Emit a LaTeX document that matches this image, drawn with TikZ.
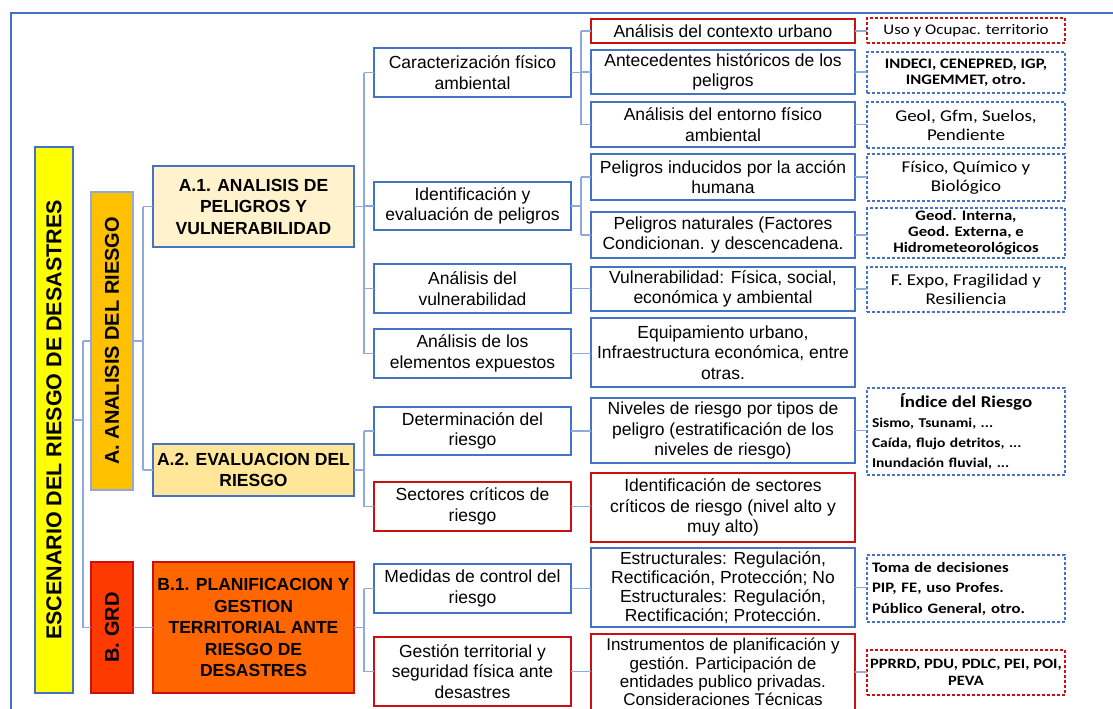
\documentclass[tikz,border=0pt]{standalone}
\usepackage{fontspec}
\setmainfont{Liberation Sans}
\newfontfamily\calib[FakeStretch=1.15]{Carlito}
\definecolor{bl}{HTML}{4472C4}
\definecolor{lb}{HTML}{8FAADC}
\definecolor{rd}{HTML}{CC1010}
\definecolor{yel}{HTML}{FFFF00}
\definecolor{ora}{HTML}{FFC000}
\definecolor{grd}{HTML}{FF3A00}
\definecolor{bone}{HTML}{FF6600}
\definecolor{aone}{HTML}{FFF2CC}
\definecolor{atwo}{HTML}{FFE699}
\newcommand\bx[7]{\node[#6, minimum width={(#4)-(#2)}, minimum height={(#5)-(#3)}] (#1) at ({((#2)+(#4))/2},{((#3)+(#5))/2}) {#7};}
\tikzset{
  x=1pt, y=-1pt,
  box/.style={draw=bl, line width=1.8, fill=white, inner sep=0, outer sep=0, align=center, font=\fontsize{17.5}{20.5}\selectfont},
  rbox/.style={box, draw=rd},
  tbox/.style={box, font=\fontsize{17.5}{19}\selectfont},
  hbox/.style={box, font=\bfseries\fontsize{17.5}{21.5}\selectfont},
  vbox/.style={draw=bl, line width=1.8, inner sep=0, outer sep=0, rotate=90, font=\bfseries\fontsize{20}{22}\selectfont},
  dbox/.style={draw=bl, line width=1.5, dash pattern=on 3pt off 2pt, fill=white, inner sep=0, outer sep=0, align=center, font=\calib\fontsize{16.5}{19}\selectfont},
  rdbox/.style={dbox, draw=rd},
  conn/.style={draw=lb, line width=1.5},
}
\begin{document}
\begin{tikzpicture}
\clip (0,0) rectangle (1113,709);
\fill[white] (0,0) rectangle (1113,709);
\draw[bl, line width=2] (1120,13) -- (11,13) -- (11,720);
% column 1 and 2
\node[vbox, fill=yel, minimum width=546, minimum height=38, font=\bfseries\fontsize{21.5}{24}\selectfont] (Y) at (54,420) {ESCENARIO DEL RIESGO DE DESASTRES};
\node[vbox, fill=ora, draw=lb, minimum width=298, minimum height=42] (A) at (112,341) {A. ANALISIS DEL RIESGO};
\node[vbox, fill=grd, draw=rd, minimum width=131, minimum height=42] (B) at (112,627.5) {B. GRD};
% column 3
\bx{A1}{153}{166}{354}{247}{hbox, fill=aone}{A.1. ANALISIS DE\\PELIGROS Y\\VULNERABILIDAD}
\bx{A2}{153}{444}{354}{496}{hbox, fill=atwo}{A.2. EVALUACION DEL\\RIESGO}
\bx{B1}{153}{562}{354}{693}{hbox, fill=bone, draw=rd}{B.1. PLANIFICACION Y\\GESTION\\TERRITORIAL ANTE\\RIESGO DE\\DESASTRES}
% column 4
\bx{ca}{374}{48}{571}{97}{box}{Caracterización físico\\ambiental}
\bx{cb}{374}{182}{571}{230}{box}{Identificación y\\evaluación de peligros}
\bx{cc}{374}{264}{571}{313}{box}{Análisis del\\vulnerabilidad}
\bx{cd}{374}{329}{571}{378}{box}{Análisis de los\\elementos expuestos}
\bx{ce}{374}{407}{571}{455}{box}{Determinación del\\riesgo}
\bx{cf}{374}{482}{571}{531}{rbox}{Sectores críticos de\\riesgo}
\bx{cg}{374}{564}{571}{613}{box}{Medidas de control del\\riesgo}
\bx{ch}{374}{637}{571}{706}{rbox}{Gestión territorial y\\seguridad física ante\\desastres}
% column 5
\bx{ea}{591}{19}{855}{43}{rbox}{Análisis del contexto urbano}
\bx{eb}{591}{50}{855}{94}{box}{Antecedentes históricos de los\\peligros}
\bx{ec}{591}{102}{855}{147}{box}{Análisis del entorno físico\\ambiental}
\bx{ed}{591}{154}{855}{200}{box}{Peligros inducidos por la acción\\humana}
\bx{ee}{591}{212}{855}{258}{box}{Peligros naturales (Factores\\Condicionan. y descencadena.}
\bx{ef}{591}{267}{855}{311}{box}{Vulnerabilidad: Física, social,\\económica y ambiental}
\bx{eg}{591}{318}{855}{387}{box}{Equipamiento urbano,\\Infraestructura económica, entre\\otras.}
\bx{eh}{591}{398}{855}{463}{box}{Niveles de riesgo por tipos de\\peligro (estratificación de los\\niveles de riesgo)}
\bx{ei}{591}{473}{855}{542}{rbox}{Identificación de sectores\\críticos de riesgo (nivel alto y\\muy alto)}
\bx{ej}{591}{548}{855}{627}{tbox}{Estructurales: Regulación,\\Rectificación, Protección; No\\Estructurales: Regulación,\\Rectificación; Protección.}
\bx{ek}{591}{634}{855}{710}{tbox, draw=rd, font=\fontsize{17}{18.3}\selectfont}{Instrumentos de planificación y\\gestión. Participación de\\entidades publico privadas.\\Consideraciones Técnicas}
% column 6
\bx{da}{867}{18}{1065}{43}{rdbox, font=\calib\fontsize{14.7}{17}\selectfont}{Uso y Ocupac. territorio}
\bx{db}{867}{52}{1065}{93}{dbox, font=\calib\bfseries\fontsize{14.5}{16}\selectfont}{INDECI, CENEPRED, IGP,\\INGEMMET, otro.}
\bx{dc}{867}{102}{1065}{148}{dbox}{Geol, Gfm, Suelos,\\Pendiente}
\bx{dd}{867}{154}{1065}{201}{dbox}{Físico, Químico y\\Biológico}
\bx{de}{867}{208}{1065}{258}{dbox, font=\calib\bfseries\fontsize{14.5}{16}\selectfont}{Geod. Interna,\\Geod. Externa, e\\Hidrometeorológicos}
\bx{df}{867}{267}{1065}{312}{dbox}{F. Expo, Fragilidad y\\Resiliencia}
\bx{dg}{867}{388}{1065}{475}{dbox, align=left, text width=188, font=\calib\bfseries\fontsize{13.5}{20}\selectfont}{{\centering\fontsize{16.5}{20}\selectfont Índice del Riesgo\par}Sismo, Tsunami, ...\\Caída, flujo detritos, ...\\Inundación fluvial, ...}
\bx{dh}{867}{555}{1065}{622}{dbox, align=left, text width=188, font=\calib\bfseries\fontsize{14.5}{20.5}\selectfont}{Toma de decisiones\\PIP, FE, uso Profes.\\Público General, otro.}
\bx{di}{867}{650}{1065}{695}{rdbox, font=\calib\bfseries\fontsize{14.3}{17}\selectfont}{PPRRD, PDU, PDLC, PEI, POI,\\PEVA}
% bus columns
\coordinate (k1) at (83,0);
\coordinate (k2) at (143,0);
\coordinate (k3) at (364,0);
\coordinate (k4) at (581,0);
% connectors level 1
\draw[conn] (Y.south) -- (Y.south -| k1);
\draw[conn] (k1 |- A.north) -- (k1 |- B.north);
\draw[conn] (k1 |- A.north) -- (A.north);
\draw[conn] (k1 |- B.north) -- (B.north);
% level 2
\draw[conn] (A.south) -- (A.south -| k2);
\draw[conn] (k2 |- A1.west) -- (k2 |- A2.west);
\draw[conn] (k2 |- A1.west) -- (A1.west);
\draw[conn] (k2 |- A2.west) -- (A2.west);
\draw[conn] (B.south) -- (B1.west);
% level 3
\draw[conn] (A1.east) -- (A1.east -| k3);
\draw[conn] (k3 |- ca.west) -- (k3 |- cd.west);
\foreach \n in {ca,cb,cc,cd} \draw[conn] (k3 |- \n.west) -- (\n.west);
\draw[conn] (A2.east) -- (A2.east -| k3);
\draw[conn] (k3 |- ce.west) -- (k3 |- cf.west);
\foreach \n in {ce,cf} \draw[conn] (k3 |- \n.west) -- (\n.west);
\draw[conn] (B1.east) -- (B1.east -| k3);
\draw[conn] (k3 |- cg.west) -- (k3 |- ch.west);
\foreach \n in {cg,ch} \draw[conn] (k3 |- \n.west) -- (\n.west);
% level 4
\draw[conn] (ca.east) -- (ca.east -| k4);
\draw[conn] (k4 |- ea.west) -- (k4 |- ec.west);
\foreach \n in {ea,eb,ec} \draw[conn] (k4 |- \n.west) -- (\n.west);
\draw[conn] (cb.east) -- (cb.east -| k4);
\draw[conn] (k4 |- ed.west) -- (k4 |- ee.west);
\foreach \n in {ed,ee} \draw[conn] (k4 |- \n.west) -- (\n.west);
\draw[conn] (cc.east) -- (cc.east -| ef.west);
\draw[conn] (cd.east) -- (cd.east -| eg.west);
\draw[conn] (ce.east) -- (ce.east -| eh.west);
\draw[conn] (cf.east) -- (cf.east -| ei.west);
\draw[conn] (cg.east) -- (cg.east -| ej.west);
\draw[conn] (ch.east) -- (ch.east -| ek.west);
% level 5
\draw[conn] (ea.east) -- (ea.east -| da.west);
\draw[conn] (eb.east) -- (eb.east -| db.west);
\draw[conn] (ec.east) -- (ec.east -| dc.west);
\draw[conn] (ed.east) -- (ed.east -| dd.west);
\draw[conn] (ee.east) -- (ee.east -| de.west);
\draw[conn] (ef.east) -- (ef.east -| df.west);
\draw[conn] (eh.east) -- (eh.east -| dg.west);
\draw[conn] (ej.east) -- (ej.east -| dh.west);
\draw[conn] (ek.east) -- (ek.east -| di.west);
\end{tikzpicture}
\end{document}
